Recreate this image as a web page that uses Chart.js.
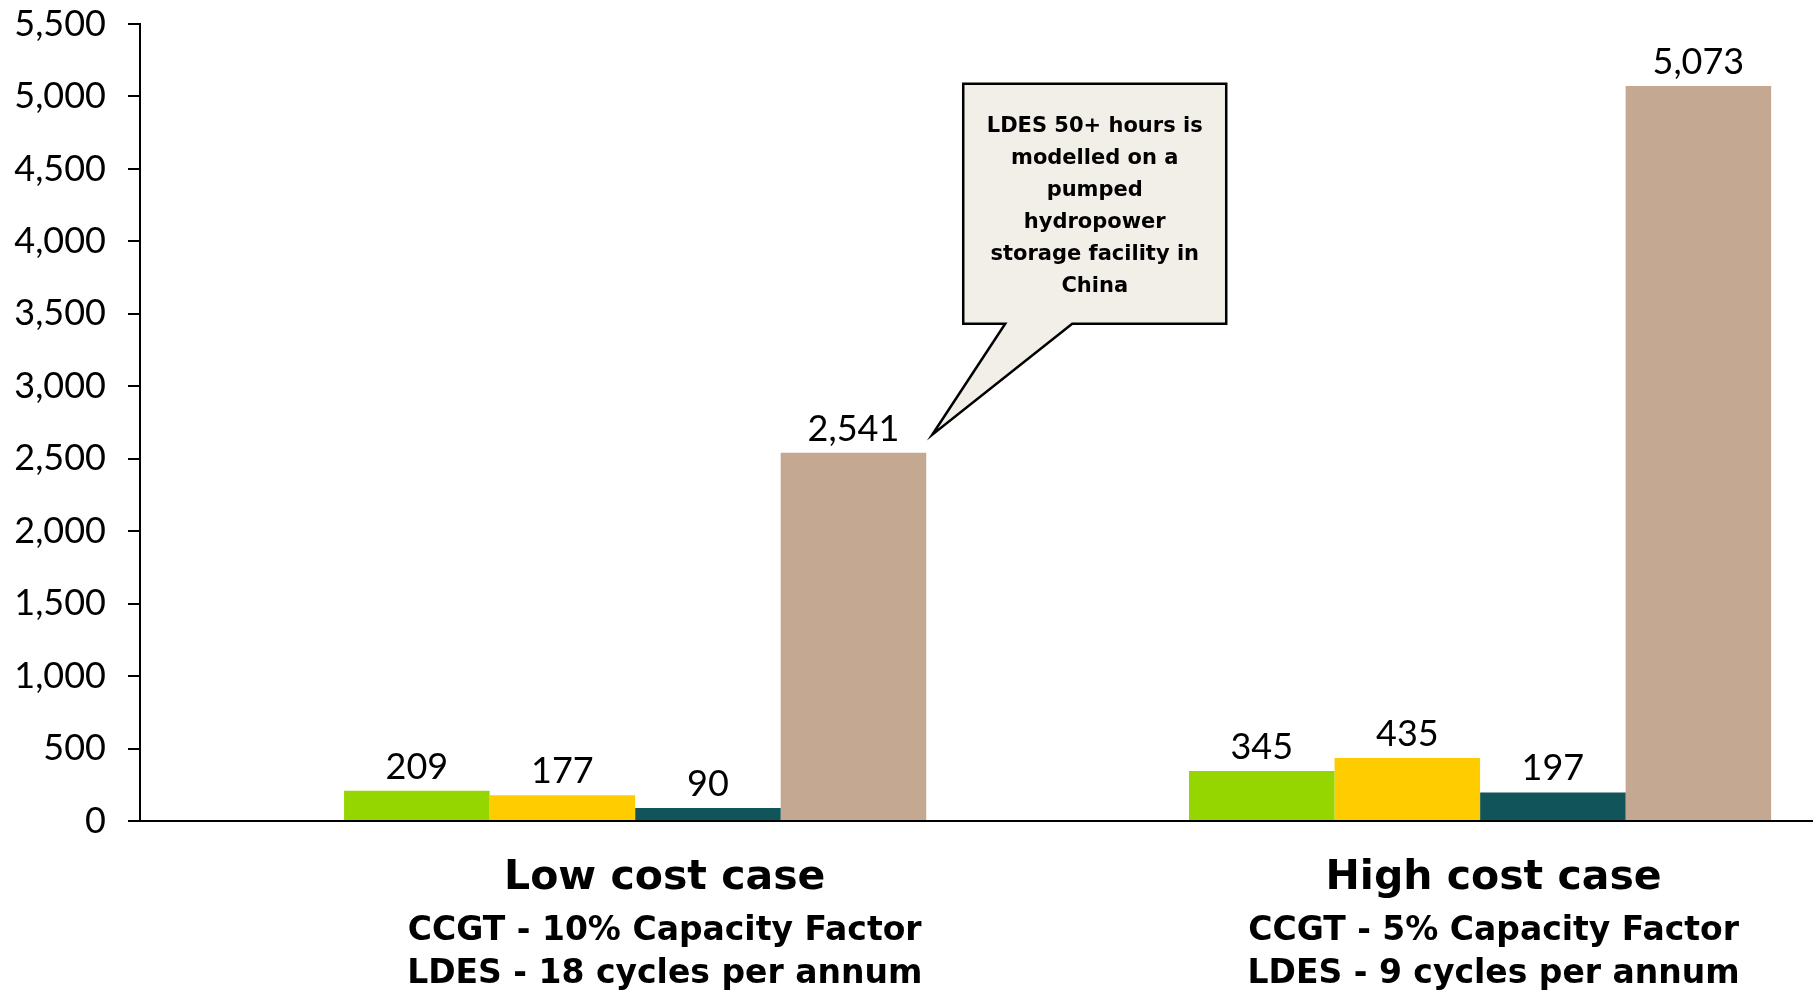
<!DOCTYPE html>
<html>
<head>
<meta charset="utf-8">
<script src="https://cdn.jsdelivr.net/npm/chart.js@4.4.1/dist/chart.umd.min.js"></script>
<style>
  html, body { margin: 0; padding: 0; background: #fff; overflow: hidden; }
  #wrap { width: 1813px; height: 993px; position: relative; }
</style>
</head>
<body>
<div id="wrap"><canvas id="myChart"></canvas></div>
<script>
// categories and their two-line notes under the axis
var categories = ["Low cost case", "High cost case"];
var categoryNotes = [
    ["CCGT - 10% Capacity Factor", "LDES - 18 cycles per annum"],
    ["CCGT - 5% Capacity Factor", "LDES - 9 cycles per annum"]
];

// series (one value per category)
var seriesNames = ["Series 1", "Series 2", "Series 3", "LDES 50+ hours"];
var series1 = [209, 345];
var series2 = [177, 435];
var series3 = [90, 197];
var series4 = [2541, 5073];

var yTicks = [0, 500, 1000, 1500, 2000, 2500, 3000, 3500, 4000, 4500, 5000, 5500];

var noteLines = ["LDES 50+ hours is", "modelled on a", "pumped", "hydropower", "storage facility in", "China"];

var colors = ["#96d600", "#ffcc00", "#11545a", "#c4a892"];
var NUM_FONT = "Lato";
var LABEL_FONT = "'DejaVu Sans'";

document.addEventListener("DOMContentLoaded", function() {

    var ctx = document.getElementById("myChart").getContext("2d");

    function toPoints(values) {
        return values.map(function(v, i) { return { x: i, y: v }; });
    }

    function fmt(v) {
        return Number(v).toLocaleString("en-US");
    }

    var allSeries = [series1, series2, series3, series4];
    var datasets = allSeries.map(function(vals, i) {
        return {
            label: seriesNames[i],
            data: toPoints(vals),
            backgroundColor: colors[i],
            borderWidth: 0,
            categoryPercentage: 0.689,
            barPercentage: 1.0
        };
    });

    // x range: empty band between the y axis and the first group,
    // axis runs on to the right edge
    var xMin = -0.586;
    var xMax = 1.394;
    // the category texts sit a little off the group centres
    var labelNudge = [0.035, 0.016];

    function barTicks(s) {
        s.ticks = categories.map(function(c, i) { return { value: i }; });
    }
    function labelTicks(s) {
        s.ticks = categories.map(function(c, i) { return { value: i + labelNudge[i] }; });
    }
    function noPadding(s) {
        s.paddingTop = 0; s.paddingBottom = 0; s.paddingLeft = 0; s.paddingRight = 0;
    }

    // value labels above bars
    var valueLabels = {
        id: "valueLabels",
        afterDatasetsDraw: function(chart) {
            var c = chart.ctx;
            c.save();
            c.font = "36px " + NUM_FONT;
            c.fillStyle = "#000";
            c.textAlign = "center";
            c.textBaseline = "alphabetic";
            chart.data.datasets.forEach(function(ds, i) {
                chart.getDatasetMeta(i).data.forEach(function(bar, j) {
                    c.fillText(fmt(ds.data[j].y), bar.x, bar.y - 12);
                });
            });
            c.restore();
        }
    };

    // speech-bubble note pointing at the low cost LDES bar
    var callout = {
        id: "callout",
        afterDraw: function(chart) {
            var bar = chart.getDatasetMeta(3).data[0];
            var tipX = bar.x + bar.width / 2 + 6;
            var tipY = bar.y - 18;
            var left = tipX + 31, right = tipX + 294;
            var top = tipY - 351, bottom = tipY - 111;
            var c = chart.ctx;
            c.save();
            c.beginPath();
            c.moveTo(left, top);
            c.lineTo(right, top);
            c.lineTo(right, bottom);
            c.lineTo(tipX + 140, bottom);
            c.lineTo(tipX, tipY);
            c.lineTo(tipX + 73, bottom);
            c.lineTo(left, bottom);
            c.closePath();
            c.fillStyle = "#f2eee8";
            c.fill();
            c.lineWidth = 2.5;
            c.strokeStyle = "#000";
            c.stroke();
            c.fillStyle = "#000";
            c.font = "bold 21px " + LABEL_FONT;
            c.textAlign = "center";
            c.textBaseline = "middle";
            var cx = (left + right) / 2;
            noteLines.forEach(function(line, k) {
                c.fillText(line, cx, top + 43 + k * 32);
            });
            c.restore();
        }
    };

    var options = {
        responsive: true,
        maintainAspectRatio: false,
        animation: false,
        layout: { padding: { top: 24, right: 0, bottom: 0, left: 0 } },
        plugins: {
            legend: { display: false },
            tooltip: { enabled: false }
        },
        scales: {
            x: {
                type: "linear",
                min: xMin,
                max: xMax,
                offset: false,
                afterBuildTicks: barTicks,
                afterFit: function(s) { noPadding(s); s.height = 0; },
                ticks: { display: false },
                grid: { display: false, drawTicks: false },
                border: { display: true, color: "#000", width: 2 }
            },
            xTitle: {
                type: "linear",
                position: "bottom",
                weight: 1,
                min: xMin,
                max: xMax,
                offset: false,
                afterBuildTicks: labelTicks,
                afterFit: function(s) { noPadding(s); s.height = 80; },
                ticks: {
                    autoSkip: false,
                    maxRotation: 0,
                    padding: 33,
                    color: "#000",
                    font: { family: LABEL_FONT, size: 41, weight: "bold", lineHeight: 1.2 },
                    callback: function(v, i) { return categories[i]; }
                },
                grid: { display: false, drawTicks: false },
                border: { display: false }
            },
            xNotes: {
                type: "linear",
                position: "bottom",
                weight: 2,
                min: xMin,
                max: xMax,
                offset: false,
                afterBuildTicks: labelTicks,
                afterFit: function(s) { noPadding(s); s.height = 92; },
                ticks: {
                    autoSkip: false,
                    maxRotation: 0,
                    padding: 9,
                    color: "#000",
                    font: { family: LABEL_FONT, size: 33, weight: "bold", lineHeight: 1.3 },
                    callback: function(v, i) { return categoryNotes[i]; }
                },
                grid: { display: false, drawTicks: false },
                border: { display: false }
            },
            y: {
                min: 0,
                max: 5500,
                afterBuildTicks: function(s) {
                    s.ticks = yTicks.map(function(v) { return { value: v }; });
                },
                afterFit: function(s) { noPadding(s); s.width = 140; },
                ticks: {
                    padding: 22,
                    color: "#000",
                    font: { family: NUM_FONT, size: 36 },
                    callback: function(v) { return fmt(v); }
                },
                grid: { drawOnChartArea: false, drawTicks: true, tickLength: 12, color: "#000", lineWidth: 2 },
                border: { color: "#000", width: 2 }
            }
        }
    };

    var myChart = new Chart(ctx, {
        type: "bar",
        data: { datasets: datasets },
        options: options,
        plugins: [valueLabels, callout]
    });
});
</script>
</body>
</html>
